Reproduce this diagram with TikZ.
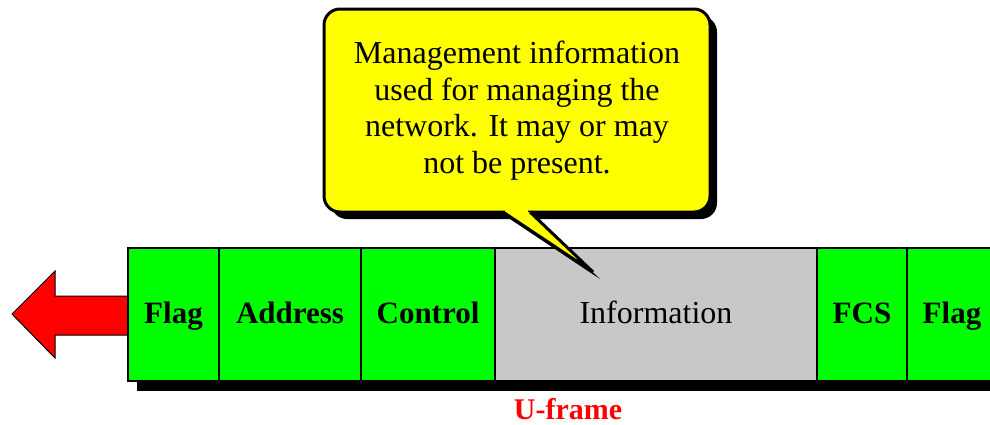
\documentclass[tikz,border=0pt]{standalone}
\usepackage{fontspec}
\setmainfont{Liberation Serif}
\usetikzlibrary{shadows}
\definecolor{fgreen}{RGB}{0,255,0}
\definecolor{fgray}{RGB}{200,200,200}
\definecolor{fyellow}{RGB}{255,255,0}
\tikzset{
  field/.style    = {rectangle, draw, line width=1.5pt, fill=fgreen, minimum height=133pt, inner sep=0pt, outer sep=0pt, text height=22.5pt, text depth=5.5pt, font=\fontsize{31}{36}\selectfont\bfseries},
  datafield/.style = {field, fill=fgray, font=\fontsize{32}{36}\selectfont},
  bubble/.style   = {rectangle, rounded corners=16pt, draw, line width=3pt, fill=fyellow, minimum width=386pt, minimum height=203pt, align=center, inner sep=0pt, font=\fontsize{32}{36.7}\selectfont, drop shadow={shadow xshift=7pt, shadow yshift=-7pt, fill=black, opacity=1}},
  bigarrow/.style = {fill=red, draw, line width=1pt},
  lbl/.style      = {text=red, inner sep=0pt, font=\fontsize{30}{34}\selectfont\bfseries}
}

\begin{document}
\begin{tikzpicture}[x=1pt, y=-1pt]

  \useasboundingbox (0,0) rectangle (990,424);
  \clip (0,0) rectangle (990,424);

  % arrow on the left
  \filldraw[bigarrow] (130,296) -- (55,296) -- (55,271) -- (12,314) -- (55,358) -- (55,335) -- (130,335);

  % frame fields
  \node[field]     (flag1) at (173.5,314.5) [minimum width=91pt]  {Flag};
  \node[field]     (addr)  at (290,314.5)   [minimum width=142pt] {Address};
  \node[field]     (ctrl)  at (428,314.5)   [minimum width=134pt] {Control};
  \node[datafield] (info)  at (656,314.5)   [minimum width=322pt] {Information};
  \node[field]     (fcs)   at (862,314.5)   [minimum width=90pt]  {FCS};
  \node[field]     (flag2) at (952,314.5)   [minimum width=90pt]  {Flag};

  % shadow under the frame
  \fill[black] ([shift={(9,1)}]flag1.south west) rectangle ([shift={(9,10)}]flag2.south east);

  \node[lbl, anchor=base] (uframe) at (568,419) {U-frame};

  % callout
  \coordinate (pl)  at (503,212);
  \coordinate (pr)  at (530,212);
  \coordinate (tip) at (593,272);
  \fill[black] ([shift={(7,7)}]pl) -- ([shift={(7,7)}]tip) -- ([shift={(7,7)}]pr) -- cycle;
  \node[bubble] (note) at (517,110.5) {Management information\\used for managing the\\network. It may or may\\not be present.};
  \fill[fyellow] (pl) -- (tip) -- (pr) -- cycle;
  \fill[fyellow] ([shift={(2,-3)}]pl) rectangle ([shift={(-2,1.6)}]pr);
  \draw[line width=3pt, miter limit=4] (pl) -- (tip) -- (pr);

\end{tikzpicture}
\end{document}
